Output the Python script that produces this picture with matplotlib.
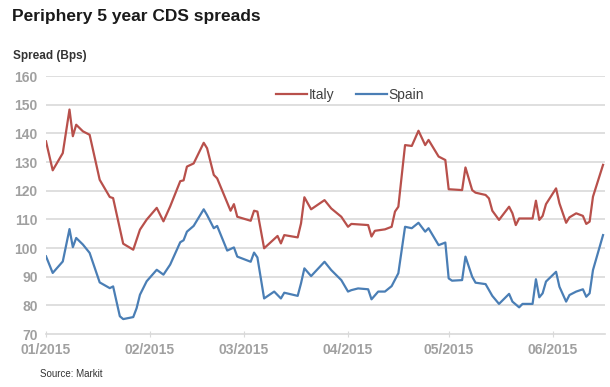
import numpy as np
import matplotlib
matplotlib.use("Agg")
from matplotlib import pyplot as plt
import matplotlib.dates as mdates

plt.rcParams['font.family'] = ['Liberation Sans', 'DejaVu Sans']

# days since 1 Jan 2015 and spread values (bps)
start = np.datetime64("2015-01-01")

italy_days = [0, 2, 5, 7, 8, 9, 11, 13, 16, 19, 20, 23, 26, 28, 30, 33, 35, 37,
              40, 41, 42, 44, 47, 48, 50, 51, 55, 56, 57, 61, 62, 63, 65, 69,
              70, 71, 75, 76, 77, 79, 83, 85, 88, 90, 91, 96, 97, 98, 101, 103,
              104, 105, 107, 109, 111, 113, 114, 117, 119, 120, 124, 125, 127,
              128, 131, 132, 133, 135, 138, 139, 140, 141, 145, 146, 147, 148,
              149, 152, 153, 155, 156, 158, 160, 161, 162, 163, 166]
italy = [137.2, 127.1, 133.1, 148.3, 139.0, 143.0, 140.7, 139.5, 123.8, 117.8,
         117.4, 101.5, 99.4, 106.4, 109.9, 114.0, 109.3, 114.5, 123.3, 123.6,
         128.4, 129.5, 136.7, 134.8, 125.5, 124.3, 113.0, 115.3, 110.9, 109.5,
         113.0, 112.7, 99.9, 104.2, 101.6, 104.5, 103.7, 108.6, 117.7, 113.5,
         116.7, 113.8, 110.9, 107.4, 108.4, 108.0, 104.0, 106.0, 106.5, 107.4,
         112.7, 114.4, 135.9, 135.6, 140.9, 135.9, 137.7, 131.9, 130.7, 120.5,
         120.2, 128.1, 120.2, 119.3, 118.5, 117.3, 113.0, 109.8, 114.4, 112.1,
         108.0, 110.3, 110.3, 116.5, 109.8, 111.2, 115.3, 120.8, 115.6, 108.8,
         110.7, 112.1, 111.2, 108.4, 109.2, 117.9, 129.0]

spain_days = [0, 2, 5, 7, 8, 9, 11, 13, 16, 19, 20, 22, 23, 26, 27, 28, 30, 33,
              35, 37, 40, 41, 42, 44, 47, 48, 50, 51, 54, 56, 57, 61, 62, 63,
              65, 68, 70, 71, 75, 76, 77, 79, 83, 85, 88, 90, 91, 93, 96, 97,
              99, 101, 103, 105, 107, 109, 111, 113, 114, 117, 119, 120, 121,
              124, 125, 127, 128, 131, 133, 135, 138, 139, 141, 142, 145, 146,
              147, 148, 149, 152, 153, 155, 156, 158, 160, 161, 162, 163, 166]
spain = [97.1, 91.3, 95.3, 106.6, 100.3, 103.5, 101.2, 98.3, 88.0, 86.0, 86.6,
         76.2, 75.2, 75.9, 79.0, 83.7, 88.4, 92.4, 90.7, 94.2, 102.0, 102.7,
         105.7, 107.7, 113.5, 111.5, 106.9, 107.7, 99.1, 100.2, 97.0, 95.2,
         98.4, 96.7, 82.4, 84.8, 82.4, 84.4, 83.3, 87.7, 92.9, 90.2, 95.2,
         92.3, 88.8, 84.8, 85.3, 85.9, 85.6, 82.1, 84.8, 84.8, 86.7, 91.2,
         107.4, 106.9, 108.8, 105.7, 106.9, 101.0, 101.9, 89.4, 88.6, 88.8,
         97.0, 90.0, 87.9, 87.4, 83.3, 80.5, 84.0, 81.3, 79.3, 80.5, 80.5,
         89.1, 82.8, 84.2, 88.3, 91.7, 86.5, 81.3, 83.6, 84.8, 85.6, 83.0,
         84.2, 92.3, 104.5]

yticks = list(range(70, 161, 10))

italy_dates = start + np.array(italy_days).astype("timedelta64[D]")
spain_dates = start + np.array(spain_days).astype("timedelta64[D]")

fig = plt.figure(figsize=(6.1, 3.87), dpi=100)
ax = fig.add_axes([46 / 610, 1 - 334 / 387, 559 / 610, 258 / 387])

grid_col = "#d9d9d9"
for y in yticks[1:]:
    ax.axhline(y, color=grid_col, lw=1.2, zorder=0)

ax.plot(italy_dates, italy, color="#b8504b", lw=1.6, label="Italy")
ax.plot(spain_dates, spain, color="#4a7eb5", lw=1.6, label="Spain")

ax.set_ylim(70, 160)
ax.set_xlim(np.datetime64("2015-01-01"), np.datetime64("2015-06-16T14:00"))
ax.set_yticks(yticks)
ax.xaxis.set_major_locator(mdates.MonthLocator())
ax.xaxis.set_major_formatter(mdates.DateFormatter("%m/%Y"))

for s in ["top", "right", "left"]:
    ax.spines[s].set_visible(False)
ax.spines["bottom"].set_color(grid_col)
ax.spines["bottom"].set_linewidth(1.2)

ax.tick_params(axis="y", length=0, pad=6, labelsize=10, labelcolor="#a0a0a0")
ax.tick_params(axis="x", direction="inout", length=5, color=grid_col,
               pad=4, labelsize=10, labelcolor="#a0a0a0")
for lbl in ax.get_xticklabels() + ax.get_yticklabels():
    lbl.set_fontweight("bold")

ax.legend(loc="center", bbox_to_anchor=(0.544, 0.926), ncol=2, frameon=False,
          fontsize=10, handlelength=2.2, handletextpad=0.1, columnspacing=1.6,
          labelcolor="#404040")

fig.text(12 / 610, 1 - 17 / 387, "Periphery 5 year CDS spreads", fontsize=12.5,
         fontweight="bold", color="#1a1a1a", va="center", ha="left")
fig.text(13 / 610, 1 - 56 / 387, "Spread (Bps)", fontsize=8.5,
         fontweight="bold", color="#333333", va="center", ha="left")
fig.text(40 / 610, 1 - 374 / 387, "Source: Markit", fontsize=7,
         color="#333333", va="center", ha="left")

fig.savefig("out.png", dpi=100, facecolor="white")
